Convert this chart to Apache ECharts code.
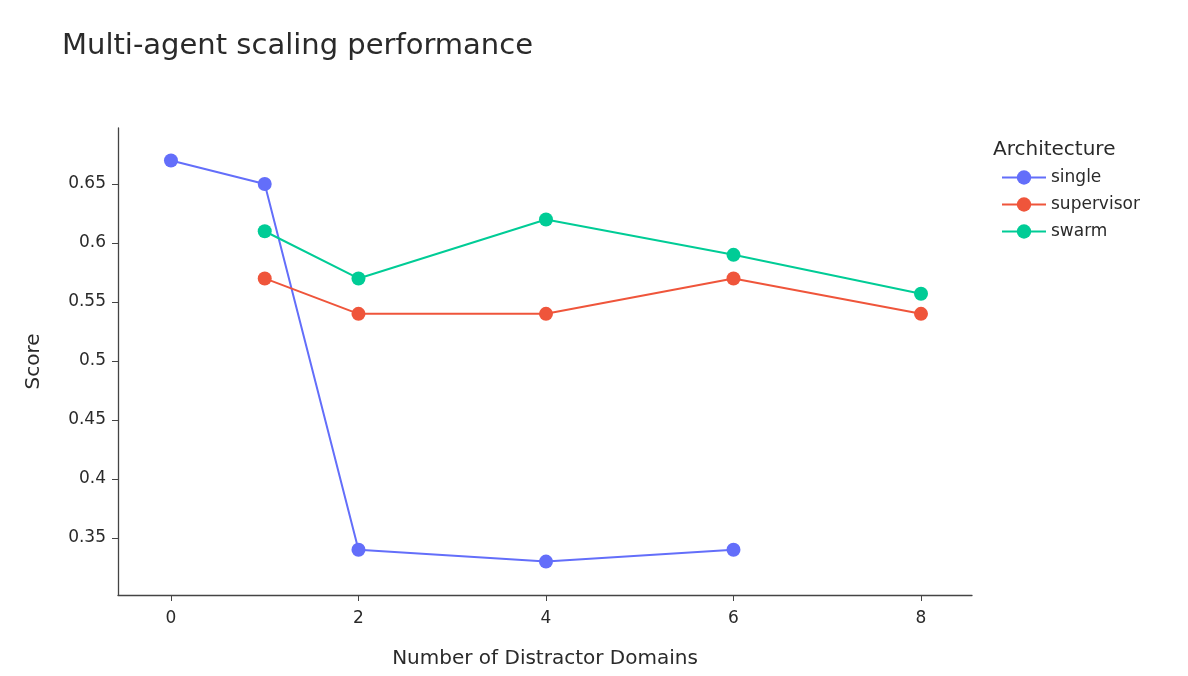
<!DOCTYPE HTML>
<html lang="en">
<head>
<meta charset="utf-8">
<title>Multi-agent scaling performance</title>
<style>
html, body {
  margin: 0;
  background: #fff;
}
#chart {
  width: 1188px;
  height: 676px;
}
</style>
</head>
<body>
<div id="chart"></div>
<script src="https://cdn.jsdelivr.net/npm/echarts@6/dist/echarts.min.js"></script>
<script>
var singleData = [[0, 0.67], [1, 0.65], [2, 0.34], [4, 0.33], [6, 0.34]];
var supervisorData = [[1, 0.57], [2, 0.54], [4, 0.54], [6, 0.57], [8, 0.54]];
var swarmData = [[1, 0.61], [2, 0.57], [4, 0.62], [6, 0.59], [8, 0.557]];
var xTicks = [0, 2, 4, 6, 8];
var yTicks = [0.35, 0.4, 0.45, 0.5, 0.55, 0.6, 0.65];

var font = '"DejaVu Sans", Verdana, sans-serif';
var textColor = '#2a2a2a';

function makeSeries(name, data, color) {
  return {
    name: name,
    type: 'line',
    data: data,
    symbol: 'circle',
    symbolSize: 14,
    lineStyle: { width: 2, color: color },
    itemStyle: { color: color },
    emphasis: { disabled: true },
    animation: false
  };
}

var chart = echarts.init(document.getElementById('chart'));
chart.setOption({
  textStyle: { fontFamily: font },
  title: [{
    text: 'Multi-agent scaling performance',
    left: 57,
    top: 27,
    textStyle: { fontFamily: font, fontSize: 29, fontWeight: 'normal', color: textColor }
  }, {
    text: 'Architecture',
    left: 988,
    top: 135,
    textStyle: { fontFamily: font, fontSize: 20, fontWeight: 'normal', color: textColor }
  }],
  legend: {
    orient: 'vertical',
    left: 996,
    top: 164,
    itemWidth: 44,
    itemHeight: 18,
    itemGap: 10,
    textStyle: { fontFamily: font, fontSize: 17, color: textColor },
    data: ['single', 'supervisor', 'swarm']
  },
  grid: {
    left: 118,
    right: 216,
    top: 128,
    bottom: 81
  },
  xAxis: {
    type: 'value',
    min: -0.565,
    max: 8.544,
    name: 'Number of Distractor Domains',
    nameLocation: 'middle',
    nameGap: 54,
    nameTextStyle: { fontFamily: font, fontSize: 20, color: textColor },
    splitLine: { show: false },
    axisLine: { onZero: false, lineStyle: { color: '#444', width: 1.3 } },
    axisTick: { show: true, length: 6, customValues: xTicks, lineStyle: { color: '#444' } },
    axisLabel: { customValues: xTicks, margin: 15, fontSize: 17, color: textColor, fontFamily: font }
  },
  yAxis: {
    type: 'value',
    min: 0.3017,
    max: 0.6975,
    name: 'Score',
    nameLocation: 'middle',
    nameGap: 74,
    nameTextStyle: { fontFamily: font, fontSize: 20, color: textColor },
    splitLine: { show: false },
    axisLine: { show: true, onZero: false, lineStyle: { color: '#444', width: 1.3 } },
    axisTick: { show: true, length: 6, customValues: yTicks, lineStyle: { color: '#444' } },
    axisLabel: {
      customValues: yTicks,
      margin: 12,
      fontSize: 17,
      color: textColor,
      fontFamily: font,
      formatter: function (v) { return String(parseFloat(v.toFixed(2))); }
    }
  },
  series: [
    makeSeries('single', singleData, '#636efa'),
    makeSeries('supervisor', supervisorData, '#ef553b'),
    makeSeries('swarm', swarmData, '#00cc96')
  ]
});
</script>
</body>
</html>
